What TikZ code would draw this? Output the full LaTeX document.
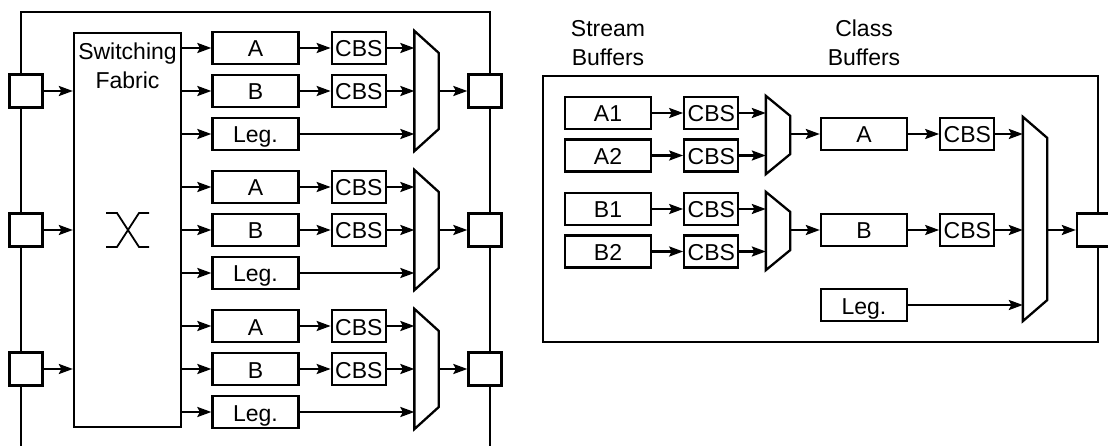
\documentclass[tikz,border=0pt]{standalone}
\usepackage{fontspec}
\setmainfont{Liberation Sans}
\usetikzlibrary{positioning}
\usetikzlibrary{arrows.meta}
\usetikzlibrary{calc}
\tikzstyle{port}=[rectangle,draw,fill=white,minimum size=33pt,inner sep=0pt]
\tikzstyle{buffer}=[rectangle,draw,minimum width=86pt,minimum height=32pt,inner sep=0pt,text height=18pt,text depth=0pt]
\tikzstyle{shaper}=[rectangle,draw,minimum width=54pt,minimum height=32pt,inner sep=0pt,text height=18pt,text depth=0pt]
\tikzstyle{muxbox}=[rectangle,minimum width=22pt,inner sep=0pt]
\tikzstyle{edge} = [draw,-{Stealth[length=14pt,width=10pt,inset=2.5pt]}]
\tikzstyle{heading} = [align=center,anchor=base,inner sep=0pt]
\newcommand{\drawmux}[2]{\draw (#1.north west) -- ([yshift=-#2]#1.north east) -- ([yshift=#2]#1.south east) -- (#1.south west) -- cycle;}

\begin{document}
\begin{tikzpicture}[x=1pt,y=-1pt,line width=2.3pt,font=\fontsize{23}{28.5}\selectfont]
  \useasboundingbox (0,0) rectangle (1108,446);

	\def\dy{139};

%Switch (left)

   \draw (21,452) |- (490,12) -- (490,452);

   \node[draw,minimum width=107pt,minimum height=394pt,inner sep=0pt] (fab) at (127.5,230) {};
   \node[heading] (fabtext) at (127.5,88.5) {Switching\\Fabric};
   % crossing
   \draw[line width=1.8pt] (106,213) -- (117,213) -- (139,247) -- (149,247);
   \draw[line width=1.8pt] (106,247) -- (117,247) -- (139,213) -- (149,213);

 %ports
  \foreach \g in {0,1,2}{
    \pgfmathsetmacro{\off}{\g*\dy}
    \node[port] (pin\g) at (26,91+\off) {};
    \node[buffer] (a\g) at (255.5,48+\off) {A};
    \node[buffer] (b\g) at (255.5,91+\off) {B};
    \node[buffer] (l\g) at (255.5,134+\off) {Leg.};
    \node[shaper, right=31pt of a\g] (ca\g) {CBS};
    \node[shaper, right=31pt of b\g] (cb\g) {CBS};
    \node[muxbox,minimum height=118pt] (m\g) at (426.5,91+\off) {};
    \drawmux{m\g}{22pt}
    \node[port] (pout\g) at (485,91+\off) {};

 % Edges
    \path[edge] (pin\g) -- (pin\g -| fab.west);
    \foreach \dest in {a,b,l}
      \path[edge] (\dest\g -| fab.east) -- (\dest\g);
    \path[edge] (a\g) -- (ca\g);
    \path[edge] (b\g) -- (cb\g);
    \foreach \source in {ca,cb,l}
      \path[edge] (\source\g) -- (\source\g -| m\g.west);
    \path[edge] (m\g.east) -- (pout\g);
  }

%Port (right)

   \draw (543,76) rectangle (1098,342);

   \node[heading] (streamtext) at (608,65.5) {Stream\\Buffers};
   \node[heading] (classtext) at (864,65.5) {Class\\Buffers};

 %stream buffers
    \foreach \pos/\name/\text in {{(608,113)/a1/A1},{(608,155.5)/a2/A2},{(608,209)/b1/B1},{(608,251.5)/b2/B2}}
      \node[buffer] (\name) at \pos {\text};
    \foreach \name in {a1,a2,b1,b2}
      \node[shaper, right=31pt of \name] (c\name) {CBS};
    \node[muxbox,minimum height=76pt] (ma) at (778,135) {};
    \node[muxbox,minimum height=76pt] (mb) at (778,231) {};
    \drawmux{ma}{20pt}
    \drawmux{mb}{20pt}

 %class buffers
    \foreach \pos/\name/\text in {{(864,134)/cla/A},{(864,230)/clb/B},{(864,305)/leg/Leg.}}
      \node[buffer] (\name) at \pos {\text};
    \node[shaper, right=31pt of cla] (cca) {CBS};
    \node[shaper, right=31pt of clb] (ccb) {CBS};
    \node[muxbox,minimum height=202pt] (mo) at (1035,219) {};
    \drawmux{mo}{21pt}
    \node[port] (pr) at (1093.5,230) {};

 % Edges
    \foreach \source in {a1,a2,b1,b2}
      \path[edge] (\source) -- (c\source);
    \foreach \source/\dest in {ca1/ma,ca2/ma,cb1/mb,cb2/mb}
      \path[edge] (\source) -- (\source -| \dest.west);
    \path[edge] (cla -| ma.east) -- (cla);
    \path[edge] (clb -| mb.east) -- (clb);
    \path[edge] (cla) -- (cca);
    \path[edge] (clb) -- (ccb);
    \foreach \source in {cca,ccb,leg}
      \path[edge] (\source) -- (\source -| mo.west);
    \path[edge] (pr -| mo.east) -- (pr);

\end{tikzpicture}
\end{document}
